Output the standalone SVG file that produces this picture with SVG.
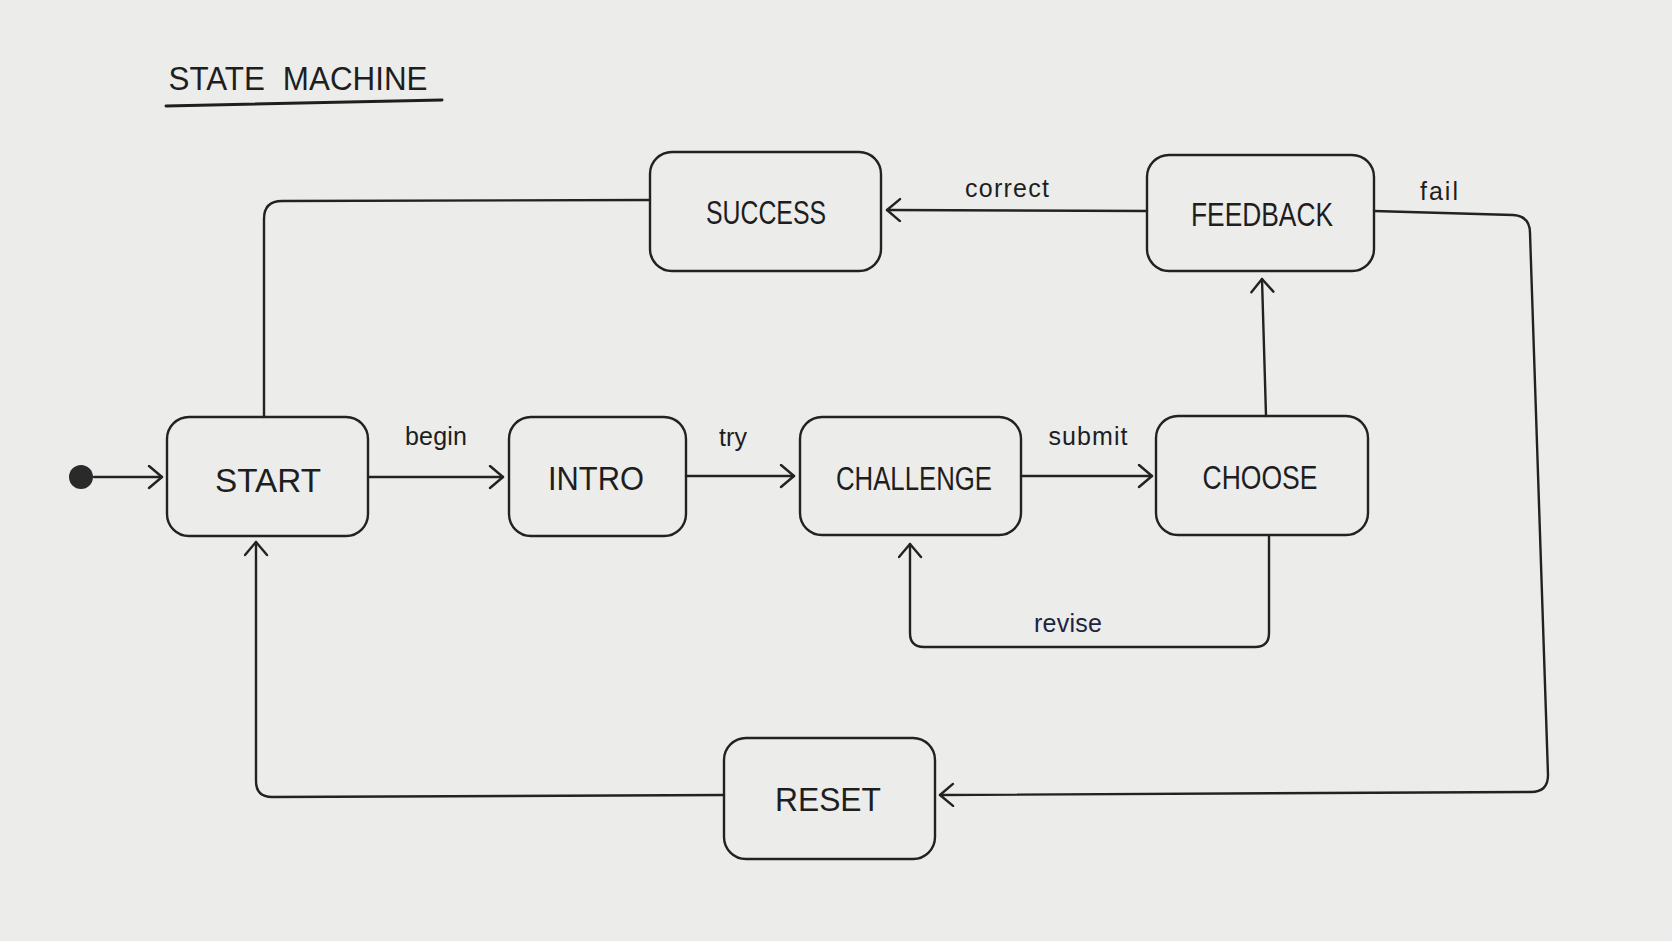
<svg xmlns="http://www.w3.org/2000/svg" width="1672" height="941" viewBox="0 0 1672 941">
<defs>
<style>
.node rect{fill:none;stroke:#222;stroke-width:2.4}
.node text{font-family:"Liberation Sans","DejaVu Sans",sans-serif;font-size:34px;fill:#1e1e1e;text-anchor:middle}
.conn path{fill:none;stroke:#222;stroke-width:2.4;stroke-linecap:round;stroke-linejoin:round}
.lbl{font-family:"Liberation Sans","DejaVu Sans",sans-serif;font-size:25px;fill:#1e1e1e;text-anchor:middle}
</style>
<marker id="arr" markerUnits="userSpaceOnUse" markerWidth="20" markerHeight="26" refX="15" refY="12" orient="auto">
<path d="M2,1 L15,12 L2,23" fill="none" stroke="#222" stroke-width="2.4" stroke-linecap="round" stroke-linejoin="round"/>
</marker>
</defs>
<rect x="0" y="0" width="1672" height="941" fill="#ececeb"/>
<g id="title">
<text x="298" y="90" font-family="Liberation Sans, DejaVu Sans, sans-serif" font-size="34" fill="#1e1e1e" text-anchor="middle" textLength="259" lengthAdjust="spacingAndGlyphs" word-spacing="10">STATE MACHINE</text>
<path d="M166,106 L442,100" stroke="#1e1e1e" stroke-width="3" fill="none" stroke-linecap="round"/>
</g>
<g class="conn" id="connectors">
<circle cx="81" cy="477" r="12" fill="#2a2a2a"/>
<path d="M94,477 L162,477" marker-end="url(#arr)"/>
<path d="M264,417 L264,219 Q264,201 282,201 L650,200"/>
<path d="M368,477 L503,477" marker-end="url(#arr)"/>
<path d="M686,476 L794,476" marker-end="url(#arr)"/>
<path d="M1021,476 L1152,476" marker-end="url(#arr)"/>
<path d="M1266,416 L1262,279" marker-end="url(#arr)"/>
<path d="M1147,211 L887,210" marker-end="url(#arr)"/>
<path d="M1374,211 L1513,215 Q1530,216 1530,233 L1548,775 Q1548,792 1531,792 L940,795" marker-end="url(#arr)"/>
<path d="M1269,536 L1269,633 Q1269,647 1255,647 L924,647 Q910,647 910,633 L910,544" marker-end="url(#arr)"/>
<path d="M724,795 L272,797 Q256,797 256,781 L256,542" marker-end="url(#arr)"/>
<text class="lbl" x="436" y="445" textLength="62" lengthAdjust="spacing">begin</text>
<text class="lbl" x="733" y="446" font-size="27">try</text>
<text class="lbl" x="1088" y="445" textLength="79" lengthAdjust="spacing">submit</text>
<text class="lbl" x="1007" y="197" textLength="84" lengthAdjust="spacing">correct</text>
<text class="lbl" x="1440" y="200" font-size="27" letter-spacing="2">fail</text>
<text class="lbl" x="1068" y="632" textLength="68" lengthAdjust="spacing" style="fill:#1c2442">revise</text>
</g>
<g class="node" id="success"><rect x="650" y="152" width="231" height="119" rx="22"/><text x="766" y="224" textLength="120" lengthAdjust="spacingAndGlyphs">SUCCESS</text></g>
<g class="node" id="feedback"><rect x="1147" y="155" width="227" height="116" rx="22"/><text x="1262" y="226" textLength="142" lengthAdjust="spacingAndGlyphs">FEEDBACK</text></g>
<g class="node" id="start"><rect x="167" y="417" width="201" height="119" rx="22"/><text x="268" y="492" textLength="106" lengthAdjust="spacingAndGlyphs">START</text></g>
<g class="node" id="intro"><rect x="509" y="417" width="177" height="119" rx="22"/><text x="596" y="490" textLength="96" lengthAdjust="spacingAndGlyphs">INTRO</text></g>
<g class="node" id="challenge"><rect x="800" y="417" width="221" height="118" rx="22"/><text x="914" y="490" textLength="156" lengthAdjust="spacingAndGlyphs">CHALLENGE</text></g>
<g class="node" id="choose"><rect x="1156" y="416" width="212" height="119" rx="22"/><text x="1260" y="489" textLength="115" lengthAdjust="spacingAndGlyphs">CHOOSE</text></g>
<g class="node" id="reset"><rect x="724" y="738" width="211" height="121" rx="22"/><text x="828" y="811" textLength="106" lengthAdjust="spacingAndGlyphs">RESET</text></g>
</svg>
